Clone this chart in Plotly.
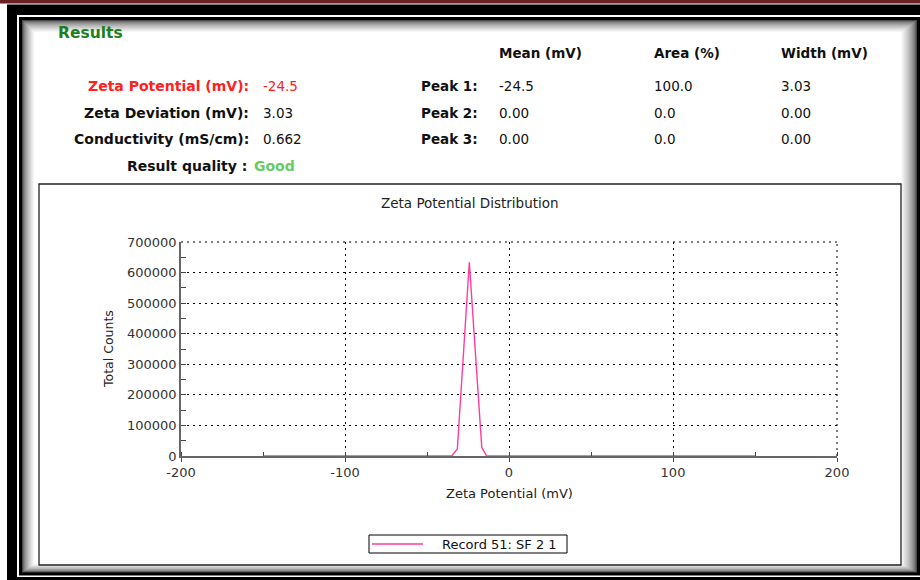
import plotly.graph_objects as go

# ---------------- data ----------------
zeta_mv = [-150, -35.0, -31.5, -24.2, -16.6, -13.6, 150]
total_counts = [0, 0, 23000, 634000, 28000, 0, 0]
series_name = "Record 51: SF 2 1"

x_tick_vals = [-200, -100, 0, 100, 200]
y_tick_vals = [0, 100000, 200000, 300000, 400000, 500000, 600000, 700000]

summary_labels = ["Zeta Potential (mV):", "Zeta Deviation (mV):", "Conductivity (mS/cm):"]
summary_values = ["-24.5", "3.03", "0.662"]
quality_label = "Result quality :"
quality_value = "Good"

peak_headers = ["Mean (mV)", "Area (%)", "Width (mV)"]
peak_labels = ["Peak 1:", "Peak 2:", "Peak 3:"]
peak_mean = ["-24.5", "0.00", "0.00"]
peak_area = ["100.0", "0.0", "0.0"]
peak_width = ["3.03", "0.00", "0.00"]

# ---------------- layout geometry ----------------
W, H = 920, 580
L, R, T, B = 181, 837, 242, 456


def px(x):
    return (x - L) / (R - L)


def py(y):
    return (B - y) / (B - T)


FONT = "DejaVu Sans"
grid_dash = "2px,4px"

fig = go.Figure()
fig.add_trace(go.Scatter(
    x=zeta_mv, y=total_counts, mode="lines", name=series_name,
    line=dict(color="#ff3d9e", width=1.4), showlegend=False,
))

shapes = []


def rect(x0, y0, x1, y1, fill, line_color=None, lw=0, layer="below"):
    shapes.append(dict(
        type="rect", xref="paper", yref="paper", layer=layer,
        x0=px(x0), x1=px(x1), y0=py(y1), y1=py(y0),
        fillcolor=fill,
        line=dict(color=line_color or fill, width=lw),
    ))


# top dark red strip
rect(0, 0, W, 3.5, "#6b2121")
# outer black frame
rect(7, 4.5, W + 5, H + 5, "#000000")
rect(17, 15, W + 5, 577, "#ffffff")
rect(19, 17, W + 5, 575.5, "#000000")
# bevelled inner area
steps = 12
for k in range(steps + 1):
    t = k / steps
    g = int(70 + (255 - 70) * (t ** 0.6))
    col = f"rgb({g},{g},{g})"
    rect(22 + k * 1.0, 20 + k * 1.0, 917 - k * 1.3, 572.5 - k * 0.7, col)
# chart panel
rect(39, 184, 901, 565, "#ffffff", "#222222", 1.3)

# dotted grid lines on the top and right edges of the plot area
shapes.append(dict(type="line", xref="x domain", yref="y domain", layer="below",
                   x0=0, x1=1, y0=1, y1=1,
                   line=dict(color="#000000", width=1, dash=grid_dash)))
shapes.append(dict(type="line", xref="x domain", yref="y domain", layer="below",
                   x0=1, x1=1, y0=0, y1=1,
                   line=dict(color="#000000", width=1, dash=grid_dash)))

annotations = []


def text(x, y, s, size=14, color="#111111", bold=False, xanchor="left", angle=0):
    annotations.append(dict(
        xref="paper", yref="paper", x=px(x), y=py(y), text=(f"<b>{s}</b>" if bold else s),
        showarrow=False, xanchor=xanchor, yanchor="middle", textangle=angle,
        font=dict(family=FONT, size=size, color=color),
    ))


text(56, 33, "Results", size=15.5, color="#1d7f1d", bold=True)
row_y = [86, 112.5, 138.5]
label_colors = ["#ff2020", "#111111", "#111111"]
value_colors = ["#ff2020", "#111111", "#111111"]
for lab, val, yy, lc, vc in zip(summary_labels, summary_values, row_y, label_colors, value_colors):
    text(251, yy, lab, size=14, color=lc, bold=True, xanchor="right")
    text(261, yy, val, size=13.5, color=vc)
text(249, 165.5, quality_label, size=14, color="#111111", bold=True, xanchor="right")
text(252, 165.5, quality_value, size=14, color="#66cc66", bold=True)

col_x = [497, 652, 779]
for hx, hdr in zip(col_x, peak_headers):
    text(hx, 53, hdr, size=13.5, bold=True)
for i, yy in enumerate(row_y):
    text(419, yy, peak_labels[i], size=13.5, bold=True)
    text(col_x[0], yy, peak_mean[i], size=13.5)
    text(col_x[1], yy, peak_area[i], size=13.5)
    text(col_x[2], yy, peak_width[i], size=13.5)

# chart texts
text(470, 203, "Zeta Potential Distribution", size=13.5, color="#222222", xanchor="center")
text(108, 349, "Total Counts", size=12.5, color="#222222", xanchor="center", angle=-90)
text(509, 493, "Zeta Potential (mV)", size=13, color="#222222", xanchor="center")

# legend box (drawn as a framed key)
rect(369, 535, 567, 553, "#ffffff", "#000000", 1)
shapes.append(dict(type="line", xref="paper", yref="paper", layer="below",
                   x0=px(372), x1=px(423), y0=py(544), y1=py(544),
                   line=dict(color="#ff3d9e", width=1.4)))
text(440, 544, series_name, size=13, color="#111111")

fig.update_xaxes(
    range=[-200, 200], tickmode="array", tickvals=x_tick_vals,
    ticktext=[str(v) for v in x_tick_vals],
    showline=True, linecolor="#666666", linewidth=1.5,
    showgrid=True, gridcolor="#000000", gridwidth=1, griddash=grid_dash,
    zeroline=False, ticks="outside", ticklen=4, tickcolor="#444444",
    minor=dict(dtick=50, tick0=0, ticks="inside", ticklen=4, tickcolor="#444444", showgrid=False),
    tickfont=dict(family=FONT, size=13, color="#333333"),
    fixedrange=True,
)
fig.update_yaxes(
    range=[0, 700000], tickmode="array", tickvals=y_tick_vals,
    ticktext=[str(v) for v in y_tick_vals],
    showline=True, linecolor="#666666", linewidth=1.5,
    showgrid=True, gridcolor="#000000", gridwidth=1, griddash=grid_dash,
    zeroline=False, ticks="inside", ticklen=5, tickcolor="#444444",
    minor=dict(dtick=50000, tick0=0, ticks="inside", ticklen=5, tickcolor="#444444", showgrid=False),
    tickfont=dict(family=FONT, size=13, color="#333333"),
    fixedrange=True,
)

fig.update_layout(
    width=W, height=H,
    margin=dict(l=L, r=W - R, t=T, b=H - B, pad=0),
    paper_bgcolor="#ffffff", plot_bgcolor="rgba(0,0,0,0)",
    shapes=shapes, annotations=annotations,
    showlegend=False,
    font=dict(family=FONT),
)

fig.write_html(
    "out.html",
    config={"displayModeBar": False},
    post_script="document.body.style.margin='0';document.body.style.overflow='hidden';",
)
